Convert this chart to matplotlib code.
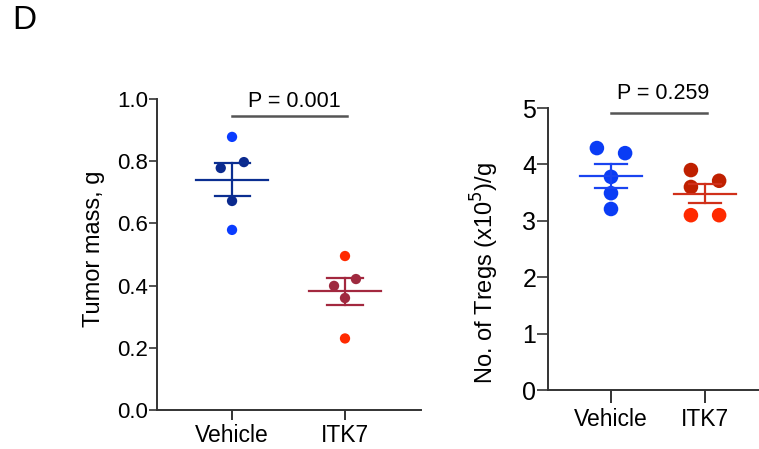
import numpy as np
import matplotlib
matplotlib.use("Agg")
import matplotlib.pyplot as plt

plt.rcParams['font.family'] = ['Liberation Sans', 'DejaVu Sans']

groups = ["Vehicle", "ITK7"]

# Tumor mass (g) per mouse
mass_vehicle = [0.878, 0.778, 0.797, 0.672, 0.579]
mass_itk7 = [0.495, 0.421, 0.399, 0.360, 0.230]
mass_p = "P = 0.001"

# Treg counts (x10^5 per g) per mouse
treg_vehicle = [4.29, 4.20, 3.78, 3.49, 3.21]
treg_itk7 = [3.90, 3.71, 3.60, 3.10, 3.10]
treg_p = "P = 0.259"

# horizontal spread of overlapping dots (swarm layout)
mass_spread = [[0.0, -0.10, 0.105, 0.0, 0.0], [0.0, 0.097, -0.097, 0.0, 0.0]]
treg_spread = [[-0.15, 0.15, 0.0, 0.0, 0.0], [-0.15, 0.15, -0.15, -0.15, 0.15]]

mass_dot_colors = [["#0A3CFF", "#0B2A8E", "#0B2A8E", "#0B2A8E", "#0A3CFF"],
                   ["#FF2A00", "#9E2A3F", "#9E2A3F", "#9E2A3F", "#FF2A00"]]
mass_bar_colors = ["#0B2E91", "#A3283F"]
treg_dot_colors = [["#0A3CF5"] * 5,
                   ["#BF2000", "#BF2000", "#BF2000", "#FF2A00", "#FF2A00"]]
treg_bar_colors = ["#1A44F0", "#D0301A"]

SPINE = "#333333"

fig = plt.figure(figsize=(7.59, 4.49), dpi=100)
fig.text(0.016, 0.935, "D", fontsize=24, ha="left", va="baseline")


def draw_panel(ax, series, spread, dot_colors, bar_colors, size, mean_hw, cap_hw):
    for i, vals in enumerate(series):
        vals = np.asarray(vals)
        m = vals.mean()
        sem = vals.std(ddof=1) / np.sqrt(len(vals))
        x = i + np.asarray(spread[i])
        ax.scatter(x, vals, s=size, c=dot_colors[i], edgecolors="none", zorder=3)
        c = bar_colors[i]
        ax.plot([i - mean_hw, i + mean_hw], [m, m], color=c, lw=1.6, zorder=4)
        ax.plot([i, i], [m - sem, m + sem], color=c, lw=1.6, zorder=4)
        for y in (m - sem, m + sem):
            ax.plot([i - cap_hw, i + cap_hw], [y, y], color=c, lw=1.6, zorder=4)


def style(ax):
    for s in ("top", "right"):
        ax.spines[s].set_visible(False)
    for s in ("left", "bottom"):
        ax.spines[s].set_color(SPINE)
        ax.spines[s].set_linewidth(1.4)
    ax.set_xticks(range(len(groups)))
    ax.set_xticklabels(groups)
    ax.tick_params(axis="x", length=7, width=1.4, color=SPINE, labelsize=16.5, pad=3)
    ax.tick_params(axis="y", width=1.2, color=SPINE, pad=0.5)


def bracket(ax, y_line, y_text, text, fs):
    ax.plot([0, 1.02], [y_line, y_line], color="#555555", lw=1.8, clip_on=False)
    ax.text(0.55, y_text, text, ha="center", va="baseline", fontsize=fs)


# Left panel: tumor mass
ax1 = fig.add_axes([0.2069, 0.0869, 0.3478, 0.6927])
draw_panel(ax1, [mass_vehicle, mass_itk7], mass_spread, mass_dot_colors,
           mass_bar_colors, 55, 0.32, 0.155)
ax1.set_xlim(-0.664, 1.673)
ax1.set_ylim(0, 1.0)
ax1.set_yticks([0.0, 0.2, 0.4, 0.6, 0.8, 1.0])
ax1.set_yticklabels(["0.0", "0.2", "0.4", "0.6", "0.8", "1.0"])
style(ax1)
ax1.tick_params(axis="y", labelsize=16, length=6)
ax1.set_ylabel("Tumor mass, g", fontsize=17)
ax1.yaxis.set_label_coords(-0.198, 0.52)
bracket(ax1, 0.945, 0.974, mass_p, 15.5)

# Right panel: Treg counts
ax2 = fig.add_axes([0.722, 0.1314, 0.278, 0.628])
draw_panel(ax2, [treg_vehicle, treg_itk7], treg_spread, treg_dot_colors,
           treg_bar_colors, 110, 0.33, 0.175)
ax2.set_xlim(-0.67, 1.574)
ax2.set_ylim(0, 5)
ax2.set_yticks([0, 1, 2, 3, 4, 5])
style(ax2)
ax2.tick_params(axis="y", labelsize=18, length=8)
ax2.tick_params(axis="x", length=9, pad=4)
ax2.set_ylabel("No. of Tregs (x10$^5$)/g", fontsize=17)
ax2.yaxis.set_label_coords(-0.225, 0.415)
bracket(ax2, 4.92, 5.16, treg_p, 15.5)

fig.savefig("out.png", dpi=100)
